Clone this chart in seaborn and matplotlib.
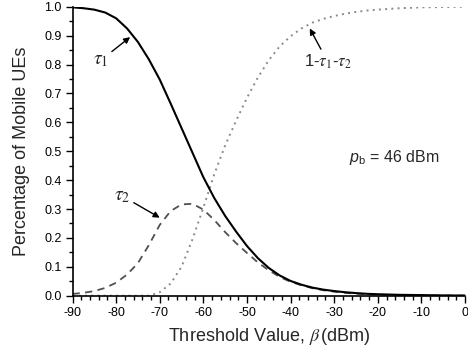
import numpy as np
import pandas as pd
import seaborn as sns
import matplotlib
matplotlib.use("Agg")
import matplotlib.pyplot as plt
from matplotlib.ticker import MultipleLocator, FormatStrFormatter

# threshold values (dBm) and the three fractions
beta = [-90, -87.5, -85, -82.5, -80, -77.5, -75, -72.5, -70, -67.5, -65,
        -62.5, -60, -57.5, -55, -52.5, -50, -47.5, -45, -42.5, -40, -37.5,
        -35, -32.5, -30, -27.5, -25, -22.5, -20, -15, -10, -5, 0]
tau1 = [0.998, 0.995, 0.99, 0.98, 0.96, 0.925, 0.878, 0.818, 0.748, 0.665,
        0.58, 0.495, 0.41, 0.338, 0.276, 0.222, 0.172, 0.13, 0.096, 0.07,
        0.051, 0.038, 0.028, 0.021, 0.016, 0.012, 0.009, 0.0065, 0.005,
        0.003, 0.002, 0.001, 0.0005]
tau2 = [0.006, 0.01, 0.016, 0.027, 0.045, 0.073, 0.113, 0.175, 0.245, 0.293,
        0.316, 0.318, 0.298, 0.262, 0.22, 0.182, 0.148, 0.115, 0.088, 0.065,
        0.048, 0.036, 0.026, 0.019, 0.014, 0.010, 0.007, 0.005, 0.0035,
        0.002, 0.001, 0.0005, 0.0002]
rest = [0.0, 0.0, 0.0, 0.0, 0.0, 0.0, 0.0, 0.0, 0.012, 0.042, 0.10, 0.195,
        0.305, 0.42, 0.52, 0.605, 0.685, 0.755, 0.815, 0.863, 0.898, 0.925,
        0.945, 0.958, 0.968, 0.976, 0.982, 0.987, 0.99, 0.995, 0.998, 0.999,
        1.0]

df = pd.DataFrame({'beta': beta, 'tau1': tau1, 'tau2': tau2, 'rest': rest})

sns.set_style("ticks")
plt.rcParams['font.family'] = ['Liberation Sans', 'DejaVu Sans']
plt.rcParams['axes.unicode_minus'] = False
plt.rcParams['mathtext.fontset'] = 'custom'
plt.rcParams['mathtext.rm'] = 'Liberation Sans'
plt.rcParams['mathtext.it'] = 'Liberation Sans:italic'

fig = plt.figure(figsize=(4.68, 3.56), dpi=100)
ax = fig.add_axes([0.155, 0.1694, 0.8386, 0.8116])

sns.lineplot(data=df, x='beta', y='rest', ax=ax, color='#8a8a8a',
             linewidth=1.4, linestyle=(0, (1, 2.2)))
sns.lineplot(data=df, x='beta', y='tau2', ax=ax, color='#505050',
             linewidth=1.3, linestyle=(0, (4, 3)))
sns.lineplot(data=df, x='beta', y='tau1', ax=ax, color='black',
             linewidth=1.5)

ax.set_xlim(-90, 0)
ax.set_ylim(0, 1.0)
ax.xaxis.set_major_locator(MultipleLocator(10))
ax.xaxis.set_minor_locator(MultipleLocator(2))
ax.yaxis.set_major_locator(MultipleLocator(0.1))
ax.yaxis.set_minor_locator(MultipleLocator(0.05))
ax.yaxis.set_major_formatter(FormatStrFormatter('%.1f'))
ax.tick_params(which='major', direction='out', length=5, width=1,
               labelsize=9, pad=3, color='black', labelcolor='black')
ax.tick_params(which='minor', direction='out', length=3, width=1,
               color='black')
sns.despine(ax=ax)
for s in ['left', 'bottom']:
    ax.spines[s].set_color('black')
    ax.spines[s].set_linewidth(1.2)

ax.set_xlabel(r'Threshold Value, $\beta\,$(dBm)', fontsize=13, labelpad=5,
              math_fontfamily='stix')
ax.set_ylabel('Percentage of Mobile UEs', fontsize=13, labelpad=10)

arrow = dict(arrowstyle='-|>', color='black', lw=1, mutation_scale=9,
             shrinkA=0, shrinkB=0)
ax.annotate(r'$\tau_1$', xy=(-76.8, 0.895), xytext=(-83.5, 0.815),
            fontsize=14, ha='center', va='center', arrowprops=arrow,
            math_fontfamily='stix')
ax.annotate(r'$\tau_2$', xy=(-70.0, 0.27), xytext=(-78.6, 0.345),
            fontsize=14, ha='center', va='center', arrowprops=arrow,
            math_fontfamily='stix')
ax.annotate(r'1-$\tau_1$-$\tau_2$', xy=(-35.6, 0.925), xytext=(-31.5, 0.81),
            fontsize=12, ha='center', va='center', arrowprops=arrow,
            math_fontfamily='stix')
ax.text(-16.2, 0.477, r'$p_{\mathrm{b}}$ = 46 dBm', fontsize=11.5,
        ha='center', va='center')

fig.savefig('out.png', dpi=100)
